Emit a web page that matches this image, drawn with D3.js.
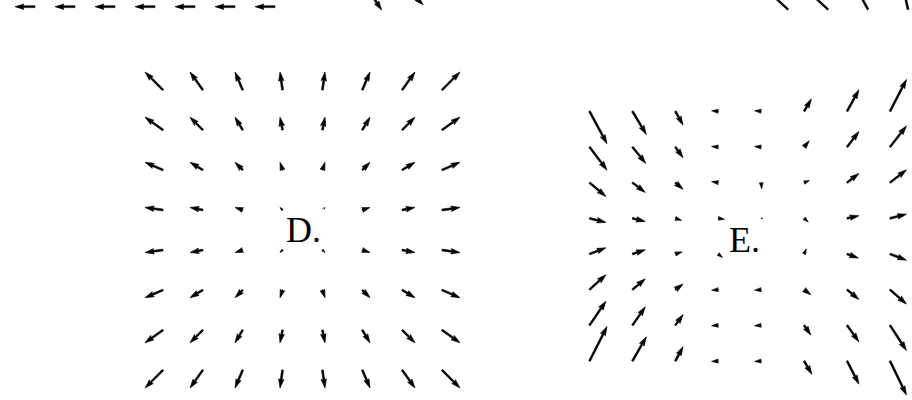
<!DOCTYPE html>
<html>
<head>
<meta charset="utf-8">
<script src="https://cdn.jsdelivr.net/npm/d3@7"></script>
<style>
  html, body { margin: 0; padding: 0; background: #fff; }
  svg { display: block; }
</style>
</head>
<body>
<div id="chart"></div>
<script>
// ---------------- DATA ----------------
// Panel D: 8x8 grid, grid coordinates
const dGridX = [-3.5, -2.5, -1.5, -0.5, 0.5, 1.5, 2.5, 3.5];
const dGridY = [3.5, 2.5, 1.5, 0.5, -0.5, -1.5, -2.5, -3.5];
// D vector components (rows top -> bottom, columns left -> right), v positive = up
const dU = [
  [-3.5, -2.5, -1.5, -0.5, 0.5, 1.5, 2.5, 3.5],
  [-3.5, -2.5, -1.5, -0.5, 0.5, 1.5, 2.5, 3.5],
  [-3.5, -2.5, -1.5, -0.5, 0.5, 1.5, 2.5, 3.5],
  [-3.5, -2.5, -1.5, -0.5, 0.5, 1.5, 2.5, 3.5],
  [-3.5, -2.5, -1.5, -0.5, 0.5, 1.5, 2.5, 3.5],
  [-3.5, -2.5, -1.5, -0.5, 0.5, 1.5, 2.5, 3.5],
  [-3.5, -2.5, -1.5, -0.5, 0.5, 1.5, 2.5, 3.5],
  [-3.5, -2.5, -1.5, -0.5, 0.5, 1.5, 2.5, 3.5]
];
const dV = [
  [3.5, 3.5, 3.5, 3.5, 3.5, 3.5, 3.5, 3.5],
  [2.5, 2.5, 2.5, 2.5, 2.5, 2.5, 2.5, 2.5],
  [1.5, 1.5, 1.5, 1.5, 1.5, 1.5, 1.5, 1.5],
  [0.5, 0.5, 0.5, 0.5, 0.5, 0.5, 0.5, 0.5],
  [-0.5, -0.5, -0.5, -0.5, -0.5, -0.5, -0.5, -0.5],
  [-1.5, -1.5, -1.5, -1.5, -1.5, -1.5, -1.5, -1.5],
  [-2.5, -2.5, -2.5, -2.5, -2.5, -2.5, -2.5, -2.5],
  [-3.5, -3.5, -3.5, -3.5, -3.5, -3.5, -3.5, -3.5]
];

// Panel E: 8x8 grid
const eGridX = [0, 1, 2, 3, 4, 5, 6, 7];
const eGridY = [0, 1, 2, 3, 4, 5, 6, 7];
const eU = [
  [3.4, 2.7, 1.5, -1.3, -1.3, 1.4, 2.3, 3.2],
  [3.4, 2.6, 1.5, -1.3, -1.3, 1.0, 2.3, 3.2],
  [3.2, 2.5, 1.5, -1.3, 0.1, 1.0, 2.3, 3.2],
  [3.2, 2.5, 1.2, 1.2, 0.3, 0.8, 2.3, 3.2],
  [3.2, 2.5, 1.3, 0.8, 0.1, 0.4, 2.2, 3.2],
  [3.2, 2.5, 1.5, -1.3, -1.3, 1.3, 2.3, 3.2],
  [3.2, 2.5, 1.5, -1.3, -1.3, 1.3, 2.3, 3.2],
  [3.4, 2.7, 1.5, -1.3, -1.3, 1.5, 2.3, 3.2]
];
const eV = [
  [-6.3, -4.5, -2.7, 0.1, 0.1, 2.4, 4.2, 6.2],
  [-4.5, -3.2, -2.1, 0.1, 0.1, 1.2, 3.0, 4.1],
  [-2.7, -1.9, -1.3, 0.2, -1.2, 0.4, 1.8, 2.5],
  [-0.8, -0.6, -0.4, -0.2, 0.0, -0.7, 0.5, 0.8],
  [1.2, 0.8, 0.4, -0.7, 0.0, 1.0, -0.8, -1.2],
  [2.9, 2.1, 1.1, -0.1, -0.1, -1.0, -1.9, -2.8],
  [4.7, 3.6, 2.1, -0.1, -0.1, -1.9, -3.2, -4.9],
  [6.7, 4.7, 2.8, -0.1, -0.1, -2.6, -4.5, -6.6]
];

// Partial panels cut off at the top of the picture
const aGridX = [0, 1, 2, 3, 4, 5, 6];
const aU = [-3.9, -3.9, -3.9, -3.9, -3.9, -3.9, -3.9];
const aV = [0, 0, 0, 0, 0, 0, 0];
const bGridX = [0, 1];
const bU = [2.6, 2.9];
const bV = [-3.9, -2.9];
const cGridX = [0, 1, 2, 3];
const cU = [-4.0, -4.0, -2.0, -0.8];
const cV = [3.7, 3.7, 3.7, 3.7];

const labels = ["D.", "E."];

// ---------------- DRAWING ----------------
const W = 912, H = 400;
const svg = d3.select("#chart").append("svg")
  .attr("width", W).attr("height", H)
  .style("background", "#fff");

// arrow length scale: data units -> pixels
const lenScale = d3.scaleLinear().domain([0, 1]).range([0, 5.14]);
const shaftW = 1.8;

// matplotlib-style quiver arrow polygon (tail at origin, pointing +x)
function arrowPoints(len) {
  const w = shaftW, hl = 5 * w, hal = 4.5 * w, hw = 3 * w;
  const minsh = hl;
  let X = [0, len - hal, len - hl, len, len - hl, len - hal, 0];
  let Y = [w / 2, w / 2, hw / 2, 0, -hw / 2, -w / 2, -w / 2];
  if (len < minsh) {
    const s = len / minsh;
    X = [0, minsh - hal, minsh - hl, minsh, minsh - hl, minsh - hal, 0].map(v => v * s);
    Y = Y.map(v => v * s);
  }
  return X.map((x, i) => [x, Y[i]]);
}
const line = d3.line().curve(d3.curveLinearClosed);

function drawField(g, items, xs, ys) {
  g.selectAll("path.arrow").data(items).join("path")
    .attr("class", "arrow")
    .attr("fill", "#000")
    .attr("stroke", "#000")
    .attr("stroke-width", 0.6)
    .attr("stroke-linejoin", "round")
    .attr("d", d => {
      const dx = lenScale(d.u), dy = lenScale(d.v);
      const len = Math.hypot(dx, dy);
      return line(arrowPoints(len));
    })
    .attr("transform", d => {
      const ang = Math.atan2(-d.v, d.u) * 180 / Math.PI;
      return `translate(${xs(d.gx)},${ys(d.gy)}) rotate(${ang})`;
    });
}

function gridItems(gx, gy, U, V) {
  const out = [];
  gy.forEach((yv, j) => gx.forEach((xv, i) => out.push({ gx: xv, gy: yv, u: U[j][i], v: V[j][i] })));
  return out;
}

// Panel D
const xD = d3.scaleLinear().domain([-3.5, 3.5]).range([163, 442]);
const yD = d3.scaleLinear().domain([3.5, -3.5]).range([90, 370]);
drawField(svg.append("g"), gridItems(dGridX, dGridY, dU, dV), xD, yD);

// Panel E
const xE = d3.scaleLinear().domain([0, 7]).range([589.5, 890]);
const yE = d3.scaleLinear().domain([0, 7]).range([111.3, 361]);
drawField(svg.append("g"), gridItems(eGridX, eGridY, eU, eV), xE, yE);

// Partial panels at the top
const xA = d3.scaleLinear().domain([0, 6]).range([35, 275]);
drawField(svg.append("g"), aGridX.map((g, i) => ({ gx: g, gy: 0, u: aU[i], v: aV[i] })), xA, d3.scaleLinear().domain([0, 1]).range([6.7, 7.7]));
const xB = d3.scaleLinear().domain([0, 1]).range([368.3, 408.3]);
drawField(svg.append("g"), bGridX.map((g, i) => ({ gx: g, gy: 0, u: bU[i], v: bV[i] })), xB, d3.scaleLinear().domain([0, 1]).range([-10, -9]));
const xC = d3.scaleLinear().domain([0, 3]).range([788, 908]);
drawField(svg.append("g"), cGridX.map((g, i) => ({ gx: g, gy: 0, u: cU[i], v: cV[i] })), xC, d3.scaleLinear().domain([0, 1]).range([9.5, 10.5]));

// Labels with white boxes
const labelBoxes = [
  { text: labels[0], x: 286, y: 242, bx: 283, by: 208.5, bw: 41, bh: 40.5 },
  { text: labels[1], x: 729, y: 252, bx: 726, by: 221, bw: 38, bh: 35 }
];
const lg = svg.append("g");
labelBoxes.forEach(l => {
  lg.append("rect").attr("x", l.bx).attr("y", l.by).attr("width", l.bw).attr("height", l.bh).attr("fill", "#fff");
  lg.append("text").attr("x", l.x).attr("y", l.y)
    .attr("font-family", "'Liberation Serif', 'DejaVu Serif', serif")
    .attr("font-size", 36).attr("fill", "#000").text(l.text);
});
</script>
</body>
</html>
